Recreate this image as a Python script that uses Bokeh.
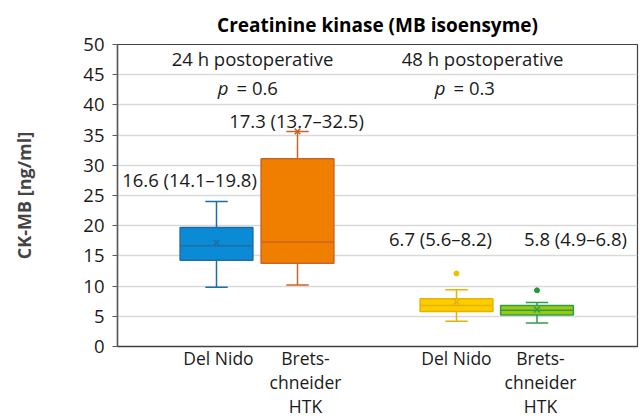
from bokeh.plotting import figure
from bokeh.models import Range1d, FixedTicker, ColumnDataSource, LinearAxis
from bokeh.core.properties import value
from bokeh.embed import file_html
from bokeh.resources import INLINE

# ---- data ----
time_points = ["24 h postoperative", "48 h postoperative"]
p_values = ["0.6", "0.3"]
groups = ["Del Nido", "Brets-\nchneider\nHTK", "Del Nido", "Brets-\nchneider\nHTK"]
q1 = [14.3, 13.8, 5.8, 5.2]
median = [16.7, 17.3, 6.8, 6.0]
q3 = [19.7, 31.1, 7.9, 6.8]
whisker_low = [9.8, 10.2, 4.2, 3.9]
whisker_high = [24.0, 35.6, 9.4, 7.3]
means = [17.2, 35.6, 7.4, 6.1]
outlier_group = [2, 3]
outlier_value = [12.1, 9.3]
summary_labels = ["16.6 (14.1\u201319.8)", "17.3 (13.7\u201332.5)",
                  "6.7 (5.6\u20138.2)", "5.8 (4.9\u20136.8)"]

# ---- layout / style ----
FONT = "Open Sans"
TXT = "18.5px"
centers = [1.2375, 2.25, 4.2375, 5.24375]
label_x = [0.90, 2.2375, 4.0375, 5.725]
label_y = [27.6, 37.5, 17.9, 17.9]
group_label_x = [1.2625, 2.35, 4.2375, 5.2875]
fills = ["#0B8AD6", "#F07F00", "#FFCC00", "#9CC80E"]
lines = ["#1E6EA3", "#C8642A", "#E3B400", "#2E9E4E"]
outlier_colors = ["#EDC000", "#1F9A3C"]
box_w = 0.91
cap_w = 0.28

W, H = 640, 420
p = figure(width=W, height=H, output_backend="svg", toolbar_location=None,
           x_range=Range1d(0, 6.5), y_range=Range1d(0, 50),
           min_border_left=117, min_border_right=3, min_border_top=44,
           min_border_bottom=71)

p.title.text = "Creatinine kinase (MB isoensyme)"
p.title.align = "center"
p.title.text_font = FONT
p.title.text_font_size = "19px"
p.title.text_font_style = "bold"
p.title.text_color = "#000000"
p.title.standoff = 13

p.outline_line_color = "#404040"
p.outline_line_width = 1.2

p.xgrid.visible = False
p.ygrid.grid_line_color = "#D9D9D9"
p.ygrid.grid_line_width = 1.5

yax = p.yaxis[0]
yax.ticker = FixedTicker(ticks=list(range(0, 51, 5)))
yax.axis_label = "CK-MB [ng/ml]"
yax.axis_label_text_font = FONT
yax.axis_label_text_font_size = "18px"
yax.axis_label_text_font_style = "bold"
yax.axis_label_standoff = 44
yax.major_label_text_font = FONT
yax.major_label_text_font_size = "18.5px"
yax.major_label_text_color = "#1a1a1a"
yax.major_tick_out = 5
yax.major_tick_in = 0
yax.minor_tick_line_color = None
yax.axis_line_color = "#595959"
yax.axis_line_width = 1.5
yax.major_tick_line_color = "#595959"
yax.major_label_standoff = 8

# category labels: one stacked axis per line of the (wrapped) labels
n_lines = max(len(g.split("\n")) for g in groups)
x_axes = [p.xaxis[0]]
for i in range(1, n_lines):
    ax = LinearAxis()
    p.add_layout(ax, "below")
    x_axes.append(ax)
for i, ax in enumerate(x_axes):
    ticks, over = [], {}
    for x, g in zip(group_label_x, groups):
        parts = g.split("\n")
        if i < len(parts):
            ticks.append(x)
            over[x] = parts[i]
    ax.ticker = FixedTicker(ticks=ticks)
    ax.major_label_overrides = over
    ax.major_label_text_font = FONT
    ax.major_label_text_font_size = "17.5px"
    ax.major_label_text_color = "#1a1a1a"
    ax.major_tick_line_color = None
    ax.minor_tick_line_color = None
    ax.major_tick_out = 0
    ax.major_tick_in = 0
    ax.minor_tick_out = 0
    ax.minor_tick_in = 0
    ax.major_label_standoff = -1 if i == 0 else -3
    if i == 0:
        ax.axis_line_color = "#404040"
        ax.axis_line_width = 1.5
    else:
        ax.axis_line_color = None

# boxes
left = [c - box_w / 2 for c in centers]
right = [c + box_w / 2 for c in centers]
src = ColumnDataSource(dict(x=centers, left=left, right=right, q1=q1, q3=q3,
                            med=median, lo=whisker_low, hi=whisker_high,
                            mean=means, fill=fills, line=lines,
                            cl=[c - cap_w / 2 for c in centers],
                            cr=[c + cap_w / 2 for c in centers]))
p.segment(x0="x", y0="q3", x1="x", y1="hi", source=src, line_color="line", line_width=1.5)
p.segment(x0="x", y0="lo", x1="x", y1="q1", source=src, line_color="line", line_width=1.5)
p.segment(x0="cl", y0="hi", x1="cr", y1="hi", source=src, line_color="line", line_width=1.5)
p.segment(x0="cl", y0="lo", x1="cr", y1="lo", source=src, line_color="line", line_width=1.5)
p.quad(left="left", right="right", bottom="q1", top="q3", source=src,
       fill_color="fill", line_color="line", line_width=1.5)
p.segment(x0="left", y0="med", x1="right", y1="med", source=src, line_color="line", line_width=1.5)
p.scatter(x="x", y="mean", source=src, marker="x", size=8, line_color="line", line_width=1.5)

# outliers
p.scatter(x=[centers[i] for i in outlier_group], y=outlier_value, marker="circle",
          size=5, fill_color=outlier_colors, line_color=outlier_colors)

# summary labels
p.text(x=label_x, y=label_y, text=summary_labels, text_font=value(FONT),
       text_font_size=TXT, text_align="center", text_baseline="middle",
       text_color="#1a1a1a")

# time point headers
p.text(x=[1.6875, 4.5625], y=[47.7, 47.7], text=time_points, text_font=value(FONT),
       text_font_size=TXT, text_align="center", text_baseline="middle",
       text_color="#1a1a1a")

# p values
p.text(x=[1.3875, 4.1], y=[42.9, 42.9], text=["p", "p"], text_font=value(FONT),
       text_font_size=TXT, text_font_style="italic", text_align="right",
       text_baseline="middle", text_color="#1a1a1a")
p.text(x=[1.4875, 4.2], y=[42.9, 42.9], text=["= " + v for v in p_values],
       text_font=value(FONT), text_font_size=TXT, text_align="left",
       text_baseline="middle", text_color="#1a1a1a")

open("out.html", "w").write(file_html(p, INLINE))
